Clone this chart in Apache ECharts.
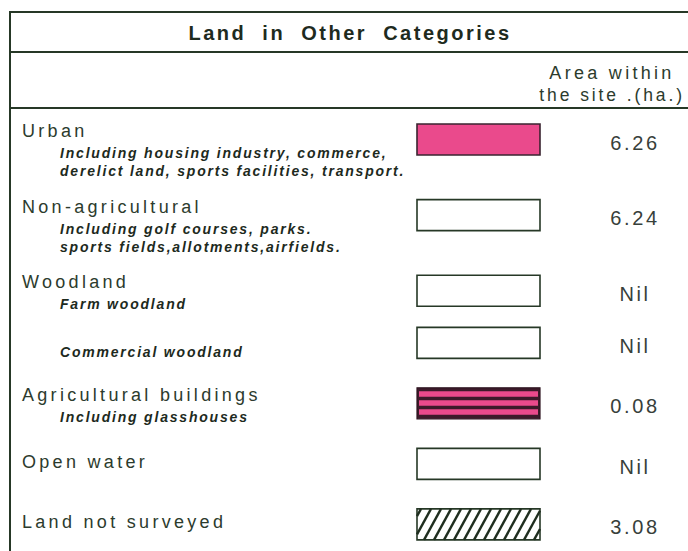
<!DOCTYPE html>
<html><head><meta charset="utf-8">
<script src="https://cdn.jsdelivr.net/npm/echarts@6/dist/echarts.min.js"></script>
<style>html,body{margin:0;padding:0;background:#fff}#c{width:688px;height:551px}</style>
</head><body><div id="c"></div>
<script>
// ---- data ----
const chartTitle = 'Land  in  Other  Categories';
const columnHeader = ['Area within', 'the site .(ha.)'];
const categories = ['Urban', 'Non-agricultural', 'Woodland', '', 'Agricultural buildings', 'Open water', 'Land not surveyed'];
const descriptions = [
  ['Including housing industry, commerce,', 'derelict land, sports facilities, transport.'],
  ['Including golf courses, parks.', 'sports fields,allotments,airfields.'],
  ['Farm woodland'],
  ['Commercial woodland'],
  ['Including glasshouses'],
  [],
  []
];
const areaHa = [6.26, 6.24, null, null, 0.08, null, 3.08];

// ---- styles (legend swatch kind per row) ----
const swatchPatterns = ['solid', 'empty', 'empty', 'empty', 'banded', 'empty', 'hatched'];

const PINK = '#ea4a8c';
const DARK = '#263826';
const TEXT_MAIN = '#2c3b2d';
const TEXT_SUB = '#1d2a1d';
const FONT = '"Liberation Sans", Arial, sans-serif';
const COL_LABEL = 22, COL_SUB = 60, COL_SWATCH = 417, SWATCH_W = 123, SWATCH_H = 31, COL_VALUE = 635;

// row positions derived from content (continuation rows sit closer, multi-line rows take more room)
const rowPos = [0];
for (let i = 1; i < categories.length; i++) {
  const step = categories[i] === '' ? 0.86 : 1 + 0.25 * Math.max(0, descriptions[i - 1].length - 1);
  rowPos.push(rowPos[i - 1] + step);
}
const seriesData = categories.map((c, i) => [i, rowPos[i]]);

function txt(text, x, y, font, fill, align) {
  return {
    type: 'text',
    style: { text, x, y, font, fill, align: align || 'left', verticalAlign: 'middle', textAlign: align || 'left', textVerticalAlign: 'middle' }
  };
}

function renderItem(params, api) {
  const i = api.value(0);
  const cy = api.coord([0, api.value(1)])[1];
  const xL = api.coord([COL_LABEL, 0])[0];
  const xS = api.coord([COL_SUB, 0])[0];
  const x0 = api.coord([COL_SWATCH, 0])[0];
  const x1 = api.coord([COL_SWATCH + SWATCH_W, 0])[0];
  const xV = api.coord([COL_VALUE, 0])[0];
  const y0 = cy - SWATCH_H / 2, y1 = cy + SWATCH_H / 2, w = x1 - x0, h = y1 - y0;
  const kids = [];
  const descs = descriptions[i];
  const main = categories[i];
  const mainY = descs.length ? y0 + 7 : cy - 2;
  if (main) kids.push(txt(main, xL, mainY, '18px ' + FONT, TEXT_MAIN));
  let sy = main ? mainY + 22 : y0 + 25;
  descs.forEach(d => { kids.push(txt(d, xS, sy, 'italic bold 14px ' + FONT, TEXT_SUB)); sy += 18; });

  const kind = swatchPatterns[i];
  if (kind === 'solid') {
    kids.push({ type: 'rect', shape: { x: x0, y: y0, width: w, height: h }, style: { fill: PINK, stroke: '#3a2430', lineWidth: 1.6 } });
  } else if (kind === 'banded') {
    kids.push({ type: 'rect', shape: { x: x0, y: y0, width: w, height: h }, style: { fill: '#3d1a2a', stroke: '#2e1520', lineWidth: 1.2 } });
    [3.5, 12.5, 21.5].forEach(o => kids.push({ type: 'rect', shape: { x: x0 + 2, y: y0 + o, width: w - 4, height: 5.5 }, style: { fill: PINK } }));
  } else if (kind === 'hatched') {
    kids.push({ type: 'rect', shape: { x: x0, y: y0, width: w, height: h }, style: { fill: '#fff', stroke: DARK, lineWidth: 1.6 } });
    const run = 17, step = 10;
    for (let t = -run + 4; t < w; t += step) {
      let sx = x0 + t, sY = y1, ex = x0 + t + run, eY = y0;
      if (sx < x0) { const s = (x0 - sx) / run; sY = y1 - s * h; sx = x0; }
      if (ex > x1) { const s = (x1 - (x0 + t)) / run; eY = y1 - s * h; ex = x1; }
      if (ex <= sx) continue;
      kids.push({ type: 'line', shape: { x1: sx, y1: sY, x2: ex, y2: eY }, style: { stroke: '#1f2e1f', lineWidth: 2.4 } });
    }
  } else {
    kids.push({ type: 'rect', shape: { x: x0, y: y0, width: w, height: h }, style: { fill: '#fff', stroke: DARK, lineWidth: 1.6 } });
  }
  const v = areaHa[i];
  kids.push(txt(v == null ? 'Nil' : v.toFixed(2), xV, cy + 3, '20px ' + FONT, '#37403a', 'center'));
  return { type: 'group', children: kids };
}

const chart = echarts.init(document.getElementById('c'), null, { renderer: 'svg' });
chart.setOption({
  animation: false,
  backgroundColor: '#fff',
  grid: { left: 0, right: 0, top: 139.5, bottom: 551 - 524.4 },
  xAxis: { type: 'value', min: 0, max: 688, show: false },
  yAxis: { type: 'value', min: 0, max: rowPos[rowPos.length - 1], inverse: true, show: false },
  graphic: [
    { type: 'line', shape: { x1: 10, y1: 12, x2: 688, y2: 12 }, style: { stroke: DARK, lineWidth: 2 } },
    { type: 'line', shape: { x1: 10, y1: 52, x2: 688, y2: 52 }, style: { stroke: DARK, lineWidth: 2 } },
    { type: 'line', shape: { x1: 10, y1: 108, x2: 688, y2: 108 }, style: { stroke: DARK, lineWidth: 2 } },
    { type: 'line', shape: { x1: 10, y1: 11, x2: 10, y2: 551 }, style: { stroke: DARK, lineWidth: 2 } },
    { type: 'text', x: 350, y: 33, style: { text: chartTitle, font: 'bold 20px ' + FONT, fill: '#1e2b1e', align: 'center', verticalAlign: 'middle', textAlign: 'center', textVerticalAlign: 'middle' } },
    { type: 'text', x: 612, y: 73, style: { text: columnHeader[0], font: '18px ' + FONT, fill: TEXT_MAIN, align: 'center', verticalAlign: 'middle', textAlign: 'center', textVerticalAlign: 'middle' } },
    { type: 'text', x: 685, y: 95, style: { text: columnHeader[1], font: '17.5px ' + FONT, fill: TEXT_MAIN, align: 'right', verticalAlign: 'middle', textAlign: 'right', textVerticalAlign: 'middle' } }
  ],
  series: [{ type: 'custom', renderItem, data: seriesData, silent: true, clip: false }]
});

function spaceLetters() {
  const map = { '20px|700': 2.5, '20px|400': 2.6, '18px|400': 3.3, '17.5px|400': 2.9, '14px|700': 1.8 };
  document.querySelectorAll('#c svg text').forEach(t => {
    const cs = getComputedStyle(t);
    const key = cs.fontSize + '|' + cs.fontWeight;
    if (map[key] != null) t.style.letterSpacing = map[key] + 'px';
  });
}
chart.on('finished', spaceLetters);
setTimeout(spaceLetters, 50);
</script>
</body></html>
